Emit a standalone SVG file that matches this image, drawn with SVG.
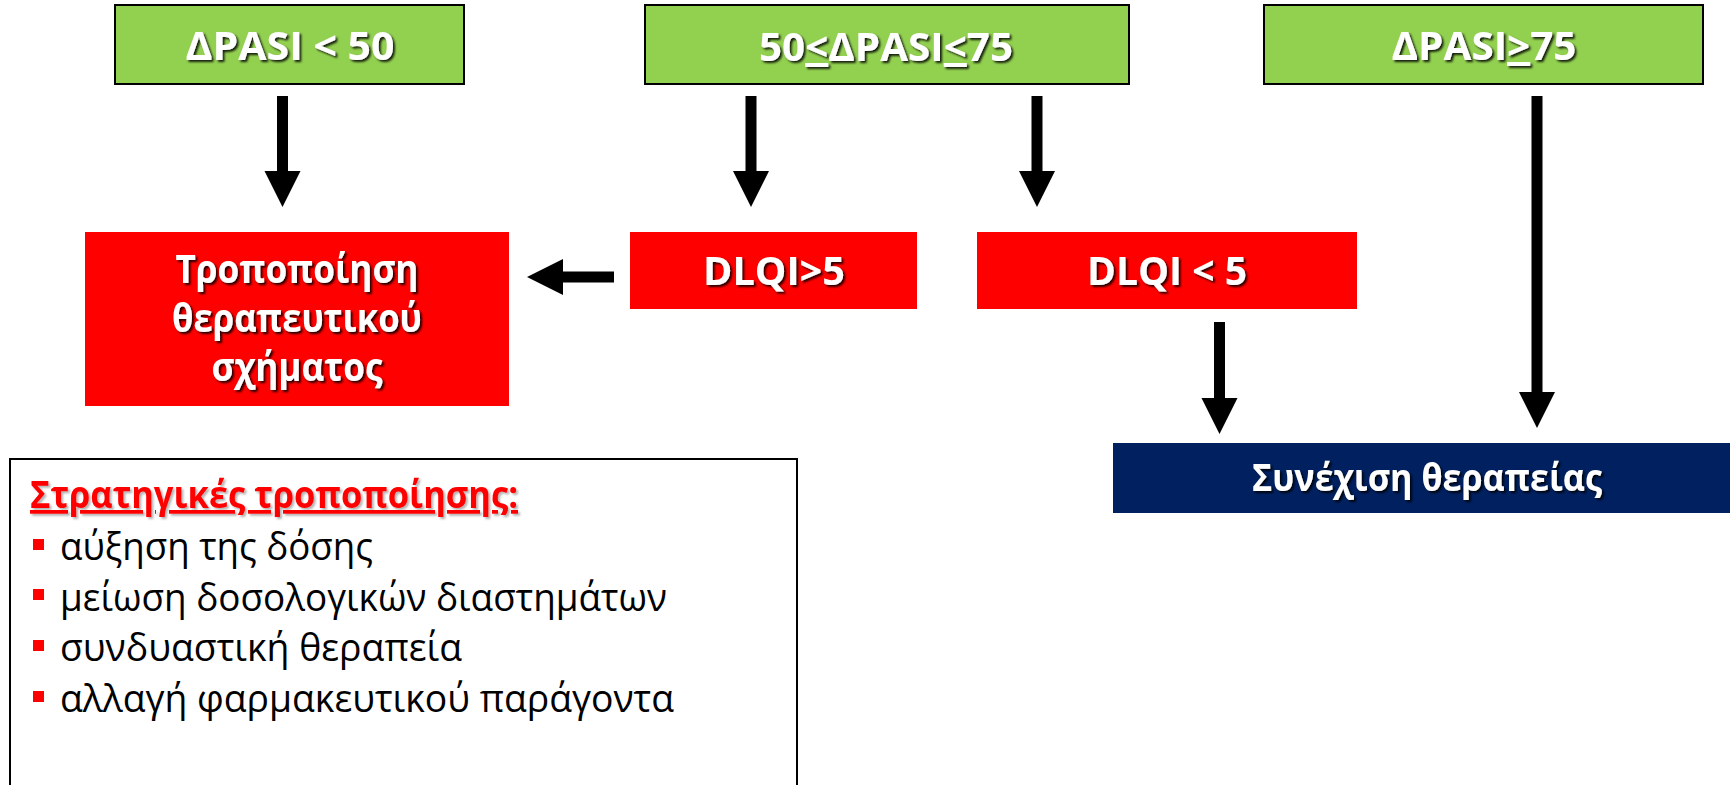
<svg xmlns="http://www.w3.org/2000/svg" width="1730" height="785" viewBox="0 0 1730 785">
<defs>
<filter id="sh" x="-10%" y="-20%" width="120%" height="150%">
<feDropShadow dx="2" dy="2" stdDeviation="1" flood-color="#000" flood-opacity="0.85"/>
</filter>
<filter id="shl" x="-10%" y="-20%" width="120%" height="150%">
<feDropShadow dx="2" dy="2" stdDeviation="1.2" flood-color="#000" flood-opacity="0.3"/>
</filter>
</defs>
<style>
.green{fill:#92D050;stroke:#000;stroke-width:2}
.red{fill:#FF0000}
.navy{fill:#002060}
.wt{font-family:"Open Sans","Noto Sans","DejaVu Sans",sans-serif;font-weight:bold;fill:#fff;text-anchor:middle;filter:url(#sh)}
.body{font-family:"Open Sans","Noto Sans","DejaVu Sans",sans-serif;font-size:39px;fill:#000}
.arrow{fill:#000}
.bul{fill:#FF0000}
</style>
<rect width="1730" height="785" fill="#fff"/>

<g id="node-pasi-lt50">
<rect class="green" x="115" y="5" width="349" height="79"/>
<text class="wt" x="290" y="60" font-size="40" textLength="209" lengthAdjust="spacingAndGlyphs">ΔPASI &lt; 50</text>
</g>
<g id="node-pasi-50-75">
<rect class="green" x="645" y="5" width="484" height="79"/>
<text class="wt" x="886" y="61" font-size="40" textLength="254" lengthAdjust="spacingAndGlyphs">50<tspan text-decoration="underline">&lt;</tspan>ΔPASI<tspan text-decoration="underline">&lt;</tspan>75</text>
</g>
<g id="node-pasi-ge75">
<rect class="green" x="1264" y="5" width="439" height="79"/>
<text class="wt" x="1484" y="60" font-size="40" textLength="185" lengthAdjust="spacingAndGlyphs">ΔPASI<tspan text-decoration="underline">&gt;</tspan>75</text>
</g>

<g id="node-modify">
<rect class="red" x="85" y="232" width="424" height="174"/>
<text class="wt" x="297" y="283" font-size="39" textLength="243" lengthAdjust="spacingAndGlyphs">Τροποποίηση</text>
<text class="wt" x="297" y="332" font-size="39" textLength="250" lengthAdjust="spacingAndGlyphs">θεραπευτικού</text>
<text class="wt" x="297" y="381" font-size="39" textLength="171" lengthAdjust="spacingAndGlyphs">σχήματος</text>
</g>
<g id="node-dlqi-gt5">
<rect class="red" x="630" y="232" width="287" height="77"/>
<text class="wt" x="774" y="285" font-size="40" textLength="142" lengthAdjust="spacingAndGlyphs">DLQI&gt;5</text>
</g>
<g id="node-dlqi-lt5">
<rect class="red" x="977" y="232" width="380" height="77"/>
<text class="wt" x="1167" y="285" font-size="40" textLength="160" lengthAdjust="spacingAndGlyphs">DLQI &lt; 5</text>
</g>
<g id="node-continue">
<rect class="navy" x="1113" y="443" width="617" height="70"/>
<text class="wt" x="1427" y="491" font-size="37" textLength="350" lengthAdjust="spacingAndGlyphs">Συνέχιση θεραπείας</text>
</g>

<g id="node-strategies">
<rect x="10" y="459" width="787" height="345" fill="#fff" stroke="#000" stroke-width="2"/>
<text x="30" y="508" font-family="'Open Sans','Noto Sans','DejaVu Sans',sans-serif" font-weight="bold" font-size="37" fill="#FF0000" text-decoration="underline" filter="url(#shl)" textLength="488" lengthAdjust="spacingAndGlyphs">Στρατηγικές τροποποίησης:</text>
<rect class="bul" x="33" y="539" width="11" height="11"/>
<text class="body" x="60" y="560" textLength="313" lengthAdjust="spacingAndGlyphs">αύξηση της δόσης</text>
<rect class="bul" x="33" y="589" width="11" height="11"/>
<text class="body" x="60" y="611" textLength="607" lengthAdjust="spacingAndGlyphs">μείωση δοσολογικών διαστημάτων</text>
<rect class="bul" x="33" y="640" width="11" height="11"/>
<text class="body" x="60" y="661" textLength="402" lengthAdjust="spacingAndGlyphs">συνδυαστική θεραπεία</text>
<rect class="bul" x="33" y="691" width="11" height="11"/>
<text class="body" x="60" y="712" textLength="614" lengthAdjust="spacingAndGlyphs">αλλαγή φαρμακευτικού παράγοντα</text>
</g>

<g id="connectors">
<polygon class="arrow" points="277,96 288,96 288,171 300.5,171 282.5,207 264.5,171 277,171"/>
<polygon class="arrow" points="745.5,96 756.5,96 756.5,171 769,171 751,207 733,171 745.5,171"/>
<polygon class="arrow" points="1031.5,96 1042.5,96 1042.5,171 1055,171 1037,207 1019,171 1031.5,171"/>
<polygon class="arrow" points="1531.5,96 1542.5,96 1542.5,392 1555,392 1537,428 1519,392 1531.5,392"/>
<polygon class="arrow" points="1214,322 1225,322 1225,398 1237.5,398 1219.5,434 1201.5,398 1214,398"/>
<polygon class="arrow" points="614,271.5 614,282.5 563,282.5 563,295 527,277 563,259 563,271.5"/>
</g>
</svg>
